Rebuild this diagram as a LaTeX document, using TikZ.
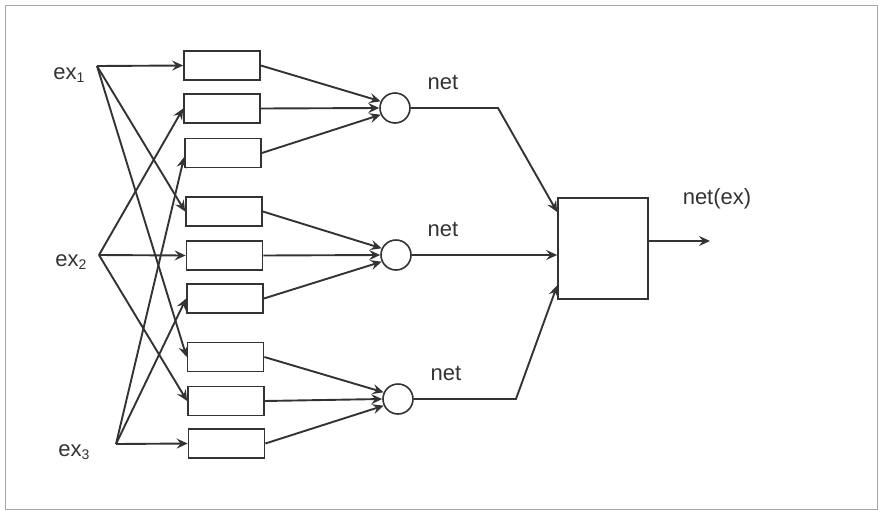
\documentclass[tikz,border=0pt]{standalone}
\usepackage{fontspec}
\setmainfont{Liberation Sans}
\usetikzlibrary{arrows.meta}
\definecolor{ink}{HTML}{333333}
\newcommand{\mysub}[1]{\raisebox{-0.3ex}{\fontsize{14}{14}\selectfont #1}}
\begin{document}
\begin{tikzpicture}[x=1pt,y=-1pt,
  arr/.style={draw=ink,line width=1.9pt,-{Stealth[length=11pt,width=10pt,inset=4pt]}},
  wbox/.style={draw=ink,line width=1.7pt,minimum width=76pt,minimum height=29pt,inner sep=0pt},
  neuron/.style={draw=ink,line width=1.6pt,circle,minimum size=30pt,inner sep=0pt},
  bigbox/.style={draw=ink,line width=1.7pt,minimum width=90pt,minimum height=101pt,inner sep=0pt},
  lbl/.style={font=\fontsize{22}{26}\selectfont,text=ink,inner sep=0pt}]
\useasboundingbox (0,0) rectangle (881,512);
\draw[gray!70,line width=0.8pt] (5,5) rectangle (877,509);
% inputs
\node[lbl] (l1) at (69,75) {ex\mysub{1}};
\node[lbl] (l2) at (71,262) {ex\mysub{2}};
\node[lbl] (l3) at (74,452) {ex\mysub{3}};
\coordinate (s1) at (97,66);
\coordinate (s2) at (99,255);
\coordinate (s3) at (116,444);
% boxes
\node[wbox] (b1) at (222,65.5) {};
\node[wbox] (b2) at (222,108.5) {};
\node[wbox] (b3) at (223,153) {};
\node[wbox] (b4) at (224,211.5) {};
\node[wbox] (b5) at (224.5,255.5) {};
\node[wbox] (b6) at (225,298.5) {};
\node[wbox] (b7) at (225.5,357) {};
\node[wbox] (b8) at (226,401) {};
\node[wbox] (b9) at (226.5,443.5) {};
% neurons
\node[neuron] (c1) at (395,108) {};
\node[neuron] (c2) at (396,255) {};
\node[neuron] (c3) at (398,399) {};
\node[bigbox] (big) at (603,248.5) {};
% labels
\node[lbl] (n1) at (443,82) {net};
\node[lbl] (n2) at (443,229) {net};
\node[lbl] (n3) at (446,373) {net};
\node[lbl] (n4) at (717,199) {net(ex)};
% input connections
\draw[arr] (s1) -- (b1.west);
\draw[arr] (s1) -- (b4.west);
\draw[arr] (s1) -- (b7.west);
\draw[arr] (s2) -- (b2.west);
\draw[arr] (s2) -- (b5.west);
\draw[arr] (s2) -- (b8.west);
\draw[arr] (s3) -- ([yshift=-4pt]b3.west);
\draw[arr] (s3) -- (b6.west);
\draw[arr] (s3) -- (b9.west);
% boxes to neurons
\draw[arr] (b1.east) -- (c1.155);
\draw[arr] (b2.east) -- (c1.west);
\draw[arr] (b3.east) -- (c1.205);
\draw[arr] (b4.east) -- (c2.155);
\draw[arr] (b5.east) -- (c2.west);
\draw[arr] (b6.east) -- (c2.205);
\draw[arr] (b7.east) -- (c3.155);
\draw[arr] (b8.east) -- (c3.west);
\draw[arr] (b9.east) -- (c3.205);
% neurons to output box
\coordinate (k1) at (498,108);
\coordinate (k3) at (516,399);
\draw[arr] (c1.east) -- (k1) -- ([yshift=36.5pt]big.west);
\draw[arr] (c2.east) -- (c2.east -| big.west);
\draw[arr] (c3.east) -- (k3) -- ([yshift=-37pt]big.west);
\coordinate (o) at (710,241);
\draw[arr] (big.east |- o) -- (o);
\end{tikzpicture}
\end{document}
